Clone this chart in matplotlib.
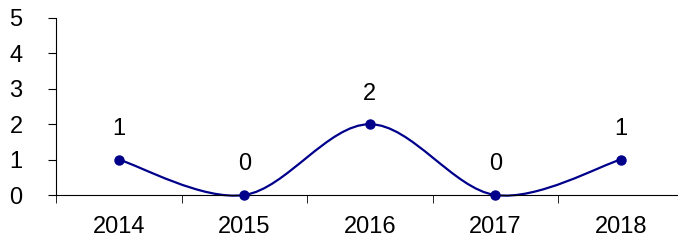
import numpy as np
import matplotlib
matplotlib.use("Agg")
import matplotlib.pyplot as plt
from matplotlib.path import Path
from matplotlib.patches import PathPatch

years = ["2014", "2015", "2016", "2017", "2018"]
counts = [1, 0, 2, 0, 1]

navy = "#00008B"
plt.rcParams['font.family'] = ['Liberation Sans', 'DejaVu Sans']

fig = plt.figure(figsize=(6.78, 2.42), dpi=100)
ax = fig.add_axes([56/678, 47/242, 627.5/678, 177/242])

x = np.arange(len(counts))
y = np.array(counts, dtype=float)

# smoothed line like a spreadsheet chart: cubic bezier segments
verts = [(x[0], y[0])]
codes = [Path.MOVETO]
n = len(x)
for i in range(n - 1):
    p0 = np.array([x[max(i-1, 0)], y[max(i-1, 0)]])
    p1 = np.array([x[i], y[i]])
    p2 = np.array([x[i+1], y[i+1]])
    p3 = np.array([x[min(i+2, n-1)], y[min(i+2, n-1)]])
    c1 = p1 + (p2 - p0) / 6
    c2 = p2 - (p3 - p1) / 6
    verts += [tuple(c1), tuple(c2), tuple(p2)]
    codes += [Path.CURVE4] * 3
ax.add_patch(PathPatch(Path(verts, codes), facecolor="none", edgecolor=navy, lw=1.6, clip_on=False))
ax.plot(x, y, "o", color=navy, ms=6.5, clip_on=False, zorder=3)

for xi, yi in zip(x, counts):
    ax.annotate(str(yi), (xi, yi), xytext=(0, 22), textcoords="offset points",
                ha="center", va="center", fontsize=17)

ax.set_xlim(-0.5, 4.5)
ax.set_ylim(0, 5)
ax.set_yticks(range(6))
ax.set_xticks(x)
ax.set_xticklabels(years)
ax.set_xticks(np.arange(-0.5, 5, 1), minor=True)
ax.tick_params(axis="x", which="major", length=0, labelsize=17, pad=15)
ax.tick_params(axis="x", which="minor", length=6, direction="out")
ax.tick_params(axis="y", length=6, labelsize=17, pad=18)

ax.spines["top"].set_visible(False)
ax.spines["right"].set_visible(False)

fig.savefig("out.png", dpi=100)
